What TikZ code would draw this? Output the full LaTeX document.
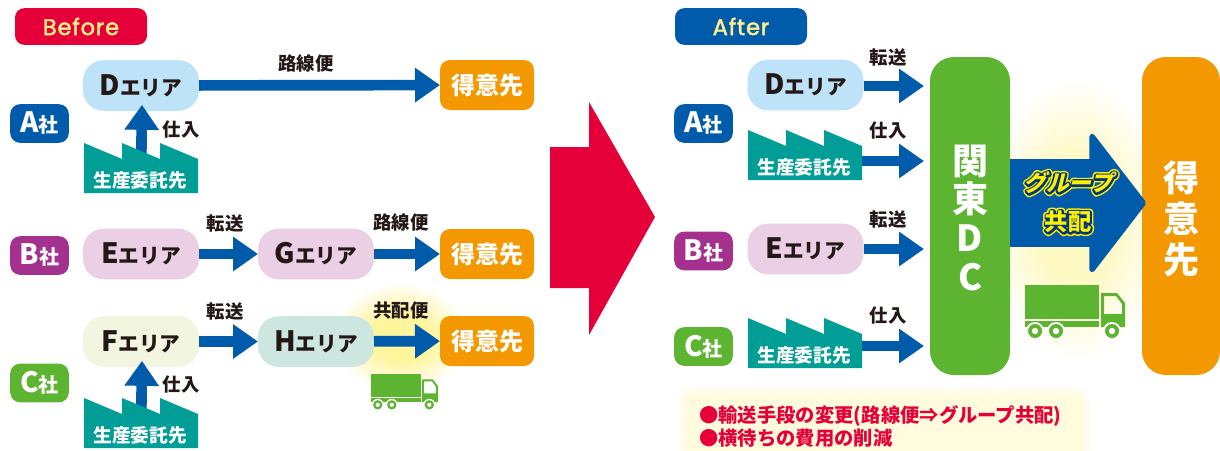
\documentclass[tikz,border=0pt]{standalone}
\usepackage{fontspec}
\setmainfont{Noto Sans CJK JP}[BoldFont={Noto Sans CJK JP Black}]
\newfontfamily\latinfont[LetterSpace=3.5]{Poppins}
\newfontfamily\haloS[FakeSlant=0.25]{Noto Sans CJK JP Black}
\newfontfamily\haloN{Noto Sans CJK JP Black}
\usetikzlibrary{arrows.meta,calc}
\definecolor{cred}{HTML}{E60039}
\definecolor{cblue}{HTML}{005BAB}
\definecolor{cpurple}{HTML}{A5318F}
\definecolor{cgreen}{HTML}{5DB431}
\definecolor{corange}{HTML}{F39800}
\definecolor{cteal}{HTML}{009E96}
\definecolor{cyellowtxt}{HTML}{FFF08C}
\definecolor{ink}{HTML}{231815}
\definecolor{aread}{HTML}{BEE3F8}
\definecolor{areae}{HTML}{EBD0E5}
\definecolor{areaf}{HTML}{F2F6E0}
\definecolor{areah}{HTML}{CDE6E0}
\definecolor{glowa}{HTML}{FFF59D}
\definecolor{glowb}{HTML}{FFF9C4}
\definecolor{notea}{HTML}{FFFEF4}
\definecolor{noteb}{HTML}{FFFDE6}
\definecolor{notec}{HTML}{FFFBDC}
\definecolor{haloy}{HTML}{FFF000}
\pgfdeclarelayer{fg}
\pgfsetlayers{main,fg}
\newcommand{\strokeon}[2]{\special{pdf:code q 2 Tr #1 w #2 RG 1 j}}
\newcommand{\strokeoff}{\special{pdf:code Q}}
\tikzset{
  badge/.style={fill=#1,rounded corners=7pt,minimum width=99pt,minimum height=27.5pt,inner sep=0,outer sep=0,text=cyellowtxt,font=\fontsize{17pt}{18pt}\latinfont},
  company/.style={fill=#1,rounded corners=7.5pt,minimum width=44pt,minimum height=29pt,inner sep=0,outer sep=0,text=white,font=\bfseries},
  area/.style={fill=#1,rounded corners=15.5pt,minimum width=87pt,minimum height=38pt,inner sep=0,outer sep=0,text=ink,font=\bfseries},
  dest/.style={fill=corange,rounded corners=7.5pt,minimum width=70.5pt,minimum height=37.5pt,inner sep=0,outer sep=0,text=white,font=\bfseries\fontsize{18pt}{20pt}\selectfont},
  tall/.style={fill=#1,rounded corners=18pt,inner sep=0,outer sep=0,text=white,font=\bfseries,align=center},
  lab/.style={text=ink,inner sep=0,font=\bfseries\fontsize{13.8pt}{15pt}\selectfont},
  blockarrow/.style={draw=cblue,line width=8pt,-{Triangle[length=18.75pt,width=24.75pt]}},
  factlabel/.style={text=white,inner sep=0,outer sep=0,minimum width=85.5pt,minimum height=37.5pt,font=\bfseries\fontsize{14pt}{15pt}\selectfont},
}
\newcommand{\badgetext}[1]{\strokeon{0.3}{1 0.94 0.55}#1\strokeoff}
\newcommand{\comptext}[1]{{\fontsize{21pt}{22pt}\selectfont #1}{\fontsize{15pt}{16pt}\selectfont 社}}
\newcommand{\areatext}[1]{{\fontsize{21pt}{22pt}\selectfont #1}{\fontsize{15.5pt}{16pt}\selectfont エリア}}
% outlined text: font switch, text
\newcommand{\halotext}[2]{%
  \makebox[0pt]{\color{haloy}#1\strokeon{5}{1 0.94 0}#2\strokeoff}%
  \makebox[0pt]{\color{cblue!70!black}#1\strokeon{2.8}{0 0.2 0.5}#2\strokeoff}%
  \makebox[0pt]{\color{haloy}#1#2}}
% soft glow: colour, centre x, centre y, rx, ry
\newcommand{\softglow}[5]{%
  \foreach \i in {1,...,24}{
    \pgfmathsetmacro{\rr}{1-(\i-1)*0.024}
    \pgfmathsetmacro{\pc}{\i*100/24}
    \fill[#1!\pc!white] (#2,#3) ellipse ({#4*\rr} and {#5*\rr});
  }}
% factory: name, left x, top y
\newcommand{\factory}[3]{%
  \begin{pgfonlayer}{fg}
  \fill[cteal] (#2,#3) -- ++(38,16) -- ++(0,-16) -- ++(38,16) -- ++(0,-16) -- ++(38,16) -- ++(0,34) -- ++(-114,0) -- cycle;
  \node[factlabel,anchor=north west] (#1) at (#2-1,#3+12) {\raisebox{-2pt}{生産委託先}};
  \end{pgfonlayer}}
% truck: left x, top y, scale
\newcommand{\trucksym}[3]{%
  \begin{scope}[shift={(#1,#2)},scale=#3]
    \fill[cgreen] (0,0) rectangle (74,34);
    \fill[cgreen] (0,36) rectangle (74,42);
    \fill[cgreen,even odd rule] (76,8) -- (92,8) -- (100,18) -- (100,42) -- (76,42) -- cycle
       (79,11) -- (91,11) -- (97,19) -- (97,29) -- (79,29) -- cycle;
    \foreach \wx in {10,31,87}{
      \fill[white] (\wx,46) circle (9);
      \fill[cgreen] (\wx,46) circle (7);
      \fill[white] (\wx,46) circle (3.2);
    }
  \end{scope}}
\begin{document}
\begin{tikzpicture}[x=0.75pt,y=-0.75pt]
\useasboundingbox (0,0) rectangle (1220,450);
\clip (0,0) rectangle (1220,450);
\fill[white] (0,0) rectangle (1220,450);
% glows
\softglow{glowa}{401}{338}{68}{54}
\softglow{glowb}{1076}{220}{90}{140}
% note background
\fill[notea,rounded corners=8pt] (678,387) rectangle (1090,470);
\fill[noteb,rounded corners=7pt] (682,391) rectangle (1086,470);
\fill[notec,rounded corners=6pt] (686,395) rectangle (1082,470);
% badges
\node[badge=cred] (before) at (81,26.5) {\badgetext{Before}};
\node[badge=cblue] (after) at (741,26.5) {\badgetext{After}};
% companies
\node[company=cblue] (ca) at (39.5,123.5) {\comptext{A}};
\node[company=cpurple] (cb) at (39.5,255.5) {\comptext{B}};
\node[company=cgreen] (cc) at (39.5,383) {\comptext{C}};
\node[company=cblue] (ca2) at (703.5,123.5) {\comptext{A}};
\node[company=cpurple] (cb2) at (703.5,251) {\comptext{B}};
\node[company=cgreen] (cc2) at (703.5,346.5) {\comptext{C}};
% before areas
\node[area=aread] (d) at (141,85.5) {\areatext{D}};
\node[area=areae] (e) at (141,254) {\areatext{E}};
\node[area=areae] (g) at (316,254) {\areatext{G}};
\node[area=areaf] (f) at (141,341.5) {\areatext{F}};
\node[area=areah] (h) at (316,341.5) {\areatext{H}};
\node[dest] (t1) at (487,85) {得意先};
\node[dest] (t2) at (487,254) {得意先};
\node[dest] (t3) at (487,341) {得意先};
% factories
\factory{fa}{84}{143}
\factory{fc}{84}{398}
\factory{fa2}{748}{130}
\factory{fc2}{748}{318}
% before connectors
\draw[blockarrow] (fa.center) ++(1,0) -- ($(d.south)+(1,-6)$);
\draw[blockarrow] (fc.center) ++(1,0) -- ($(f.south)+(1,-6)$);
\draw[blockarrow] (d) -- (t1);
\draw[blockarrow] (e) -- (g);
\draw[blockarrow] (g) -- (t2);
\draw[blockarrow] (f) -- (h);
\draw[blockarrow] (h) -- (t3);
% before labels
\node[lab] (l1) at (181,130) {仕入};
\node[lab] (l2) at (306,63) {路線便};
\node[lab] (l3) at (225,223) {転送};
\node[lab] (l4) at (401,222) {路線便};
\node[lab] (l5) at (225,311) {転送};
\node[lab] (l6) at (401,311) {共配便};
\node[lab] (l7) at (181,385) {仕入};
\trucksym{371}{374}{0.67}
% big red arrow
\fill[cred] (550,147) -- (589,147) -- (589,102) -- (655,217) -- (589,335) -- (589,288) -- (550,288) -- cycle;
% after
\node[area=aread] (d2) at (805.5,85) {\areatext{D}};
\node[area=areae] (e2) at (805.5,249) {\areatext{E}};
\node[tall=cgreen,minimum width=60pt,minimum height=238.5pt] (dc) at (970,216) {};
\node[tall=corange,minimum width=58.5pt,minimum height=238.5pt] (tc) at (1181,216) {};
\node[text=white,font=\bfseries\fontsize{27pt}{30pt}\selectfont,align=center,inner sep=0] (dct) at (970,218) {関\\[-1.5pt]東\\[-0.5pt]D\\[-0.5pt]C};
\node[text=white,font=\bfseries\fontsize{27pt}{30pt}\selectfont,align=center,inner sep=0] (tct) at (1181,219) {得\\[0.5pt]意\\[0.5pt]先};
\coordinate (p1) at (924,86);
\coordinate (p2) at (924,161);
\coordinate (p3) at (924,249);
\coordinate (p4) at (924,346);
\draw[blockarrow] (d2.east |- p1) -- (p1);
\draw[blockarrow] (fa2.east |- p2) -- (p2);
\draw[blockarrow] (e2.east |- p3) -- (p3);
\draw[blockarrow] (fc2.east |- p4) -- (p4);
\node[lab] (l8) at (888,57) {転送};
\node[lab] (l9) at (888,131) {仕入};
\node[lab] (l10) at (888,219) {転送};
\node[lab] (l11) at (888,316) {仕入};
% big blue arrow
\coordinate (bigtip) at (1146,203);
\draw[cblue,line width=66pt,-{Triangle[round,line width=4pt,length=43pt,width=111pt]}] (dc.east |- bigtip) -- (bigtip);
\node[inner sep=0,font=\fontsize{17pt}{18pt}\selectfont] (gl) at (1068,183) {\halotext{\haloS}{グループ}};
\node[inner sep=0,font=\fontsize{17.5pt}{18pt}\selectfont] (gl2) at (1068,222) {\halotext{\haloN}{共配}};
\trucksym{1025}{285}{1}
% note
\node[anchor=west,inner sep=0,text=cred,font=\bfseries\fontsize{14.5pt}{17.25pt}\selectfont,align=left] (note) at (699,426.5) {●輸送手段の変更(路線便⇒グループ共配)\\●横待ちの費用の削減};
\end{tikzpicture}
\end{document}
